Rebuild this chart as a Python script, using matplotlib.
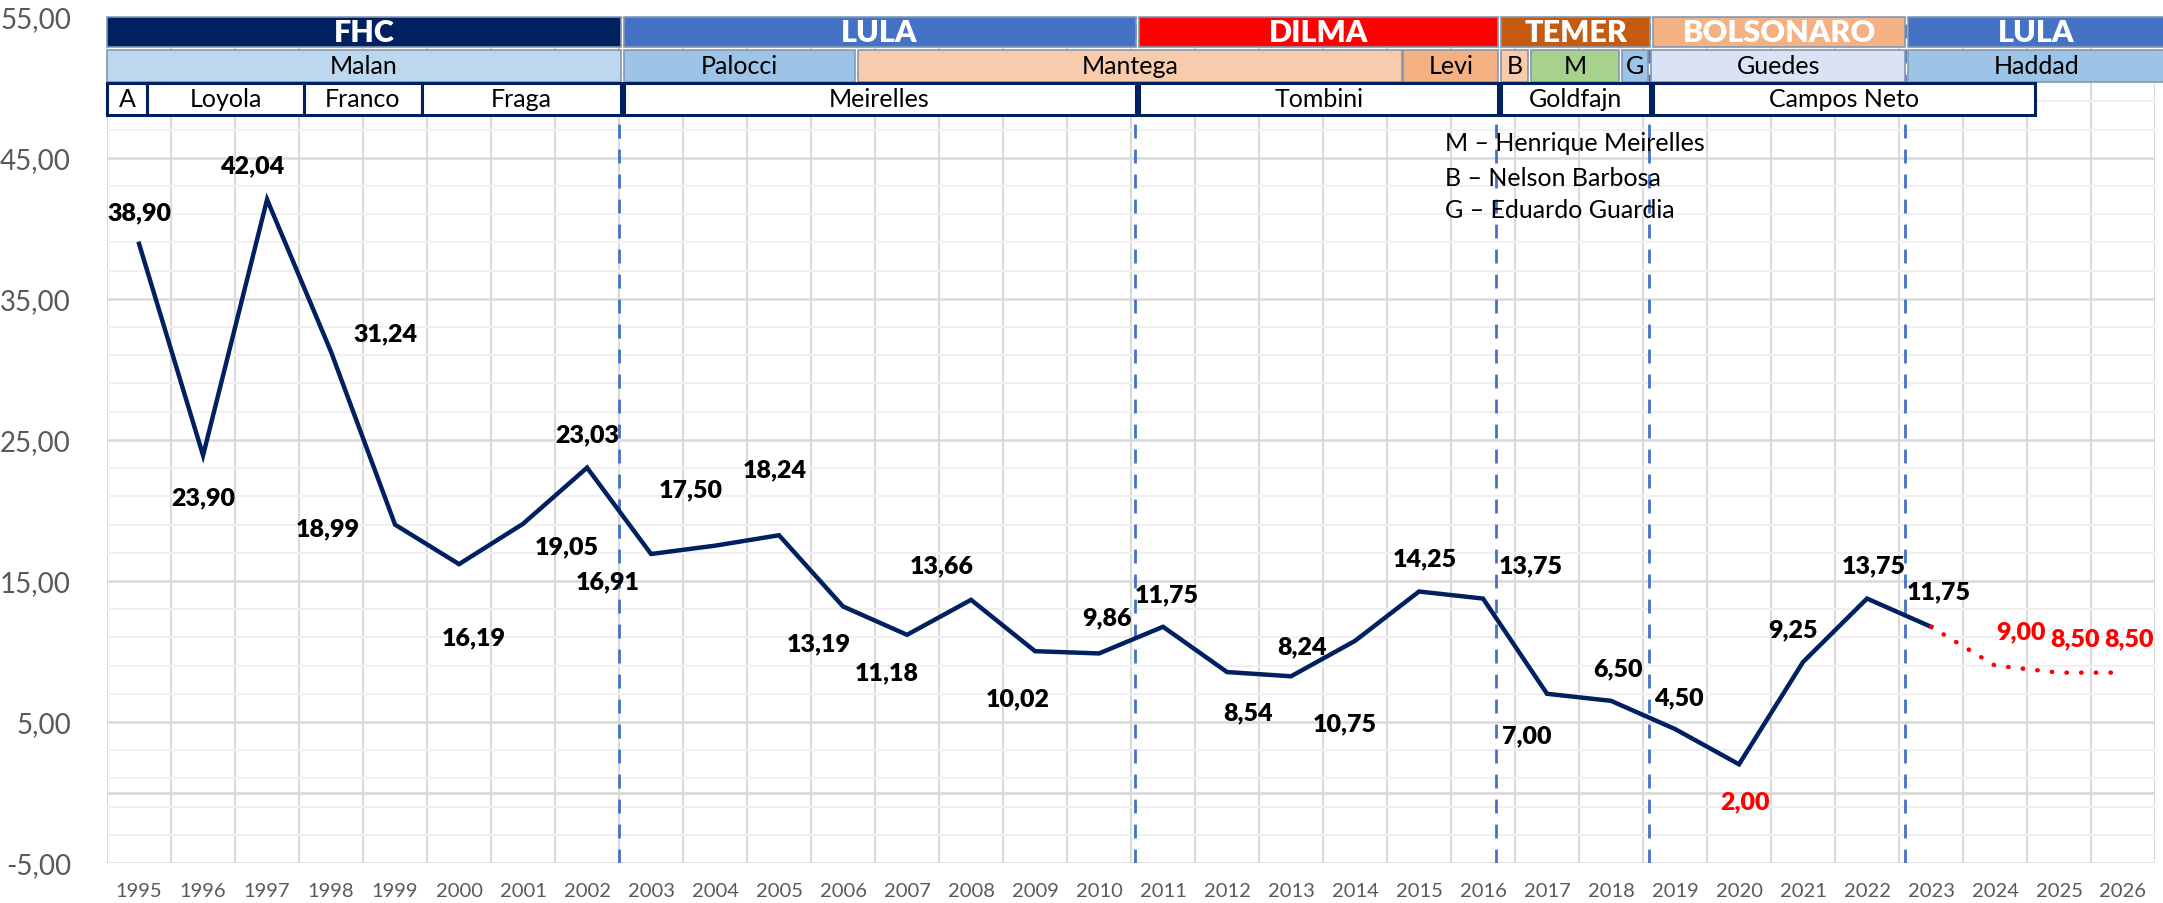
import numpy as np
import matplotlib
matplotlib.use('Agg')
import matplotlib.pyplot as plt
from matplotlib.patches import Rectangle

plt.rcParams['font.family'] = ['Lato', 'DejaVu Sans']

# Selic (% a.a.) by year
years = [str(y) for y in range(1995, 2027)]
selic = [38.90, 23.90, 42.04, 31.24, 18.99, 16.19, 19.05, 23.03, 16.91, 17.50,
         18.24, 13.19, 11.18, 13.66, 10.02, 9.86, 11.75, 8.54, 8.24, 10.75,
         14.25, 13.75, 7.00, 6.50, 4.50, 2.00, 9.25, 13.75, 11.75]
forecast_years = ['2023', '2024', '2025', '2026']
forecast = [11.75, 9.00, 8.50, 8.50]
red_labels = ['2020', '2024', '2025', '2026']

# header rows: presidents, finance ministers, central bank presidents
presidents = ['FHC', 'LULA', 'DILMA', 'TEMER', 'BOLSONARO', 'LULA']
president_spans = [(-0.5, 7.53), (7.57, 15.57), (15.63, 21.24), (21.28, 23.61), (23.65, 27.6), (27.64, 31.65)]
president_colors = ['#002060', '#4472C4', '#FF0000', '#C55A11', '#F4B183', '#4472C4']

ministers = ['Malan', 'Palocci', 'Mantega', 'Levi', 'B', 'M', 'G', 'Guedes', 'Haddad']
minister_spans = [(-0.5, 7.53), (7.58, 11.19), (11.23, 19.73), (19.75, 21.24), (21.28, 21.71),
                  (21.75, 23.13), (23.17, 23.58), (23.63, 27.6), (27.64, 31.65)]
minister_colors = ['#BDD7EE', '#9DC3E6', '#F8CBAD', '#F4B183', '#F8CBAD',
                   '#A9D18E', '#9DC3E6', '#DAE3F3', '#9DC3E6']

bc_presidents = ['A', 'Loyola', 'Franco', 'Fraga', 'Meirelles', 'Tombini', 'Goldfajn', 'Campos Neto']
bc_spans = [(-0.5, 0.13), (0.13, 2.57), (2.57, 4.42), (4.42, 7.53), (7.57, 15.57),
            (15.63, 21.24), (21.28, 23.61), (23.65, 29.62)]

# where each term change falls between years
term_changes = [7.5, 15.56, 21.2, 23.6, 27.6]

# label offsets in pixels (dx, dy)
label_offsets = [(0, 32), (0, -42), (-15, 34), (54, 19), (-67, -4), (15, -73), (44, -23), (0, 33),
                 (-43, -27), (-24, 56), (-4, 66), (-24, -37), (-20, -37), (-29, 35), (-17, -47),
                 (8, 36), (4, 32), (21, -40), (11, 30), (-10, -82), (6, 33), (48, 33), (-20, -42),
                 (7, 33), (4, 32), (6, -37), (-10, 33), (7, 33), (8, 35), (26, 34), (16, 34), (6, 34)]

fig = plt.figure(figsize=(21.63, 9.04), dpi=100)
ax = fig.add_axes([0.0495, 0.0442, 0.9468, 0.9362])

x = np.arange(len(years))
xs = x[:len(selic)]
xf = [years.index(y) for y in forecast_years]

ax.set_xlim(-0.5, len(years) - 0.5)
ax.set_ylim(-5, 55)
ax.set_xticks(x)
ax.set_xticklabels(years, fontsize=14.5, color='#595959')
ax.set_xticks(np.arange(-0.5, len(years), 1), minor=True)
ax.set_yticks(np.arange(-5, 56, 10))
ax.set_yticks(np.arange(-5, 56, 2), minor=True)
ax.set_yticklabels([f'{v:.2f}'.replace('.', ',') for v in np.arange(-5, 56, 10)], fontsize=20, color='#595959')
ax.tick_params(which='both', length=0)
ax.tick_params(axis='y', pad=26)
ax.tick_params(axis='x', pad=14)
for s in ax.spines.values():
    s.set_visible(False)

ax.grid(which='minor', axis='y', color='#F0F0F0', lw=1.5, zorder=0)
ax.grid(which='major', axis='y', color='#D9D9D9', lw=1.8, zorder=0)
ax.grid(which='minor', axis='x', color='#D9D9D9', lw=1.5, zorder=0)
ax.set_axisbelow(True)
ax.axhline(0, color='#D9D9D9', lw=2, zorder=1)

for xc in term_changes:
    ax.axvline(xc, color='#4472C4', lw=2, ls=(0, (5, 4)), zorder=2)

ax.plot(xs, selic, color='#002060', lw=3.2, solid_joinstyle='miter', zorder=4)
ax.plot(xf, forecast, color='#FF0000', lw=3.2, ls=(0, (0.1, 3.2)), dash_capstyle='round', zorder=4)

# data labels
all_vals = selic + forecast[1:]
for i, v in enumerate(all_vals):
    c = '#FF0000' if years[i] in red_labels else 'black'
    dx, dy = label_offsets[i]
    ax.annotate(f'{v:.2f}'.replace('.', ','), (i, v), xytext=(dx, dy), textcoords='offset pixels',
                ha='center', va='center', fontsize=18, fontweight='heavy', color=c, zorder=5)


def draw_row(names, spans, colors, y0, y1, text_color, size, weight, edge, lw):
    for name, (a, b), col in zip(names, spans, colors):
        ax.add_patch(Rectangle((a, y0), b - a, y1 - y0, facecolor=col, edgecolor=edge, lw=lw,
                               clip_on=False, zorder=6))
        ax.text((a + b) / 2, (y0 + y1) / 2, name, ha='center', va='center', fontsize=size,
                fontweight=weight, color=text_color, clip_on=False, zorder=7)


draw_row(presidents, president_spans, president_colors, 52.85, 55.0, 'white', 22, 'heavy', '#8497B0', 1.2)
draw_row(ministers, minister_spans, minister_colors, 50.4, 52.65, 'black', 18, 'normal', '#8497B0', 1.2)
draw_row(bc_presidents, bc_spans, ['white'] * len(bc_presidents), 48.05, 50.3, 'black', 18, 'normal',
         '#002060', 2.2)

# key for the short minister names
for txt, yv in zip(['M – Henrique Meirelles', 'B – Nelson Barbosa', 'G – Eduardo Guardia'], [46.1, 43.6, 41.35]):
    ax.text(20.4, yv, txt, ha='left', va='center', fontsize=18, color='black', zorder=5)

fig.savefig('out.png', dpi=100)
